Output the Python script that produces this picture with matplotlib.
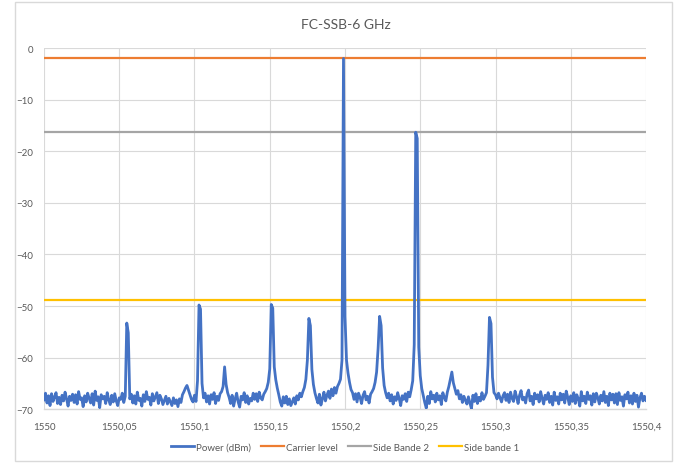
import numpy as np
import matplotlib
matplotlib.use("Agg")
import matplotlib.pyplot as plt
from matplotlib.patches import Rectangle

# ---------------------------------------------------------------------------
# Data (0.001 nm step)
# ---------------------------------------------------------------------------
wl_start, wl_stop, n_pts = 1550.0, 1550.4, 401

power_dbm = [
    -68.2, -66.9, -68.8, -67.4, -69.3, -67.0, -68.5, -67.6, -66.8, -68.9, -67.7, -69.1, -67.3, -68.4, -66.7, -68.0, -69.4, -67.5, -68.3, -67.1,
    -68.7, -67.2, -69.0, -66.6, -68.1, -67.8, -69.5, -67.4, -68.6, -66.9, -67.9, -68.8, -67.0, -69.2, -66.5, -68.3, -67.6, -69.7, -67.2, -68.0,
    -67.5, -68.9, -66.8, -68.2, -69.1, -67.3, -68.6, -67.0, -68.4, -69.3, -67.8, -68.1, -66.9, -68.7, -67.5, -53.3, -55.2, -68.0, -67.1, -68.8,
    -67.4, -69.0, -66.7, -68.3, -67.9, -69.4, -67.2, -68.5, -66.6, -68.1, -67.7, -69.2, -67.0, -68.4, -67.6, -66.8, -68.9, -67.3, -68.0, -69.1,
    -68.3, -67.5, -69.0, -67.9, -68.6, -69.3, -67.8, -68.9, -68.2, -69.5, -68.0, -68.7, -67.2, -66.6, -65.9, -65.4, -66.3, -67.2, -68.1, -68.6,
    -67.3, -68.5, -64.5, -49.8, -50.6, -65.0, -67.8, -66.9, -68.6, -67.4, -69.0, -67.2, -68.1, -66.8, -68.9, -67.5, -68.3, -67.0, -66.6, -65.6,
    -61.8, -65.2, -66.8, -67.7, -68.9, -67.3, -69.4, -68.0, -66.9, -68.6, -69.6, -67.5, -68.2, -66.8, -68.7, -67.4, -69.0, -67.9, -68.4, -66.9,
    -68.1, -67.0, -68.5, -66.7, -67.8, -68.2, -67.1, -66.6, -66.0, -64.8, -62.2, -49.7, -50.4, -61.8, -64.3, -65.9, -67.2, -68.6, -69.4, -67.6,
    -68.8, -67.5, -69.1, -68.0, -69.3, -68.6, -67.8, -69.0, -67.4, -68.2, -66.9, -67.6, -66.6, -65.8, -64.2, -60.5, -52.4, -53.8, -62.3, -65.2,
    -66.8, -67.9, -68.8, -67.1, -69.2, -68.0, -66.7, -68.4, -67.3, -66.5, -67.9, -66.1, -67.4, -65.8, -66.9, -65.6, -65.0, -64.2, -60.5, -2.0,
    -52.0, -60.5, -63.0, -64.8, -66.2, -66.8, -68.1, -67.0, -68.6, -66.9, -67.7, -68.9, -67.3, -66.6, -68.2, -67.5, -68.8, -67.1, -66.6, -66.0,
    -64.8, -62.8, -58.2, -52.0, -53.8, -62.0, -65.4, -66.8, -67.8, -66.9, -68.4, -67.2, -69.0, -67.6, -68.3, -66.8, -67.9, -69.3, -67.4, -68.1,
    -67.0, -68.5, -66.7, -67.6, -66.2, -64.5, -57.5, -16.3, -17.5, -58.0, -63.5, -66.0, -67.4, -68.7, -69.8, -67.5, -68.9, -66.6, -68.0, -67.3,
    -68.6, -66.9, -68.2, -67.4, -69.1, -66.8, -67.7, -68.4, -66.7, -65.6, -64.2, -62.8, -64.9, -66.0, -67.1, -66.4, -68.0, -67.2, -68.7, -67.5,
    -68.3, -69.0, -67.6, -68.8, -69.9, -67.3, -68.5, -67.0, -68.9, -67.7, -68.4, -66.8, -68.1, -67.5, -66.8, -61.5, -52.2, -53.4, -63.8, -66.8,
    -67.2, -68.0, -66.9, -67.8, -68.6, -67.4, -66.8, -68.3, -67.1, -68.7, -66.7, -67.9, -68.5, -66.5, -67.6, -68.9, -67.3, -66.4, -68.2, -67.7,
    -68.8, -67.0, -66.3, -68.4, -67.5, -69.1, -66.9, -68.0, -67.2, -68.6, -66.6, -67.9, -69.0, -67.3, -68.1, -66.8, -68.7, -67.5, -69.2, -66.7,
    -68.3, -67.6, -69.0, -66.9, -68.2, -67.1, -68.8, -66.5, -67.7, -69.1, -67.4, -68.5, -66.8, -68.9, -67.2, -68.0, -69.4, -66.6, -68.4, -67.5,
    -68.9, -66.7, -68.1, -67.4, -69.2, -67.0, -68.6, -66.9, -67.8, -69.0, -67.3, -68.4, -66.6, -68.7, -67.5, -69.3, -66.9, -68.2, -67.1, -68.8,
    -67.0, -69.1, -66.8, -68.3, -67.6, -69.4, -67.2, -68.0, -66.7, -68.8, -67.4, -69.0, -66.9, -68.5, -67.3, -69.6, -67.8, -66.9, -68.4, -67.5,
    -68.3,
]

carrier_level = -1.9
side_bande_2 = -16.2
side_bande_1 = -48.9

x_ticks = [1550, 1550.05, 1550.1, 1550.15, 1550.2, 1550.25, 1550.3, 1550.35, 1550.4]
x_tick_labels = ["1550", "1550,05", "1550,1", "1550,15", "1550,2",
                 "1550,25", "1550,3", "1550,35", "1550,4"]
y_ticks = [0, -10, -20, -30, -40, -50, -60, -70]

# ---------------------------------------------------------------------------
# Plot
# ---------------------------------------------------------------------------
plt.rcParams["font.family"] = ["Lato", "DejaVu Sans"]
TXT = "#595959"
GRID = "#D9D9D9"

wavelength = np.linspace(wl_start, wl_stop, n_pts)

fig = plt.figure(figsize=(6.79, 4.64), dpi=100)
fig.patches.append(Rectangle((0.022, 0.004), 0.967, 0.99, transform=fig.transFigure,
                             fill=False, edgecolor=GRID, linewidth=1.0))
ax = fig.add_axes([0.0648, 0.116, 0.8866, 0.778])

ax.plot(wavelength, power_dbm, color="#4472C4", linewidth=2.0, label="Power (dBm)", zorder=3)
ax.axhline(carrier_level, color="#ED7D31", linewidth=1.6, label="Carrier level", zorder=2)
ax.axhline(side_bande_2, color="#A5A5A5", linewidth=1.6, label="Side Bande 2", zorder=2)
ax.axhline(side_bande_1, color="#FFC000", linewidth=1.6, label="Side bande 1", zorder=2)

ax.set_xlim(wl_start, wl_stop)
ax.set_ylim(-70, 0)
ax.set_xticks(x_ticks)
ax.set_xticklabels(x_tick_labels)
ax.set_yticks(y_ticks)
ax.tick_params(axis="both", length=0, labelsize=7, labelcolor=TXT)
ax.tick_params(axis="x", pad=9)
ax.tick_params(axis="y", pad=8)
ax.grid(True, color=GRID, linewidth=0.8)
ax.set_axisbelow(True)
for side in ["top", "right", "left"]:
    ax.spines[side].set_visible(False)
ax.spines["bottom"].set_color(GRID)
ax.spines["bottom"].set_linewidth(1.0)

fig.text(0.51, 0.947, "FC-SSB-6 GHz", ha="center", va="center", fontsize=10, color=TXT)

handles, labels = ax.get_legend_handles_labels()
fig.legend(handles, labels, loc="center", bbox_to_anchor=(0.508, 0.034), ncol=4,
           frameon=False, fontsize=7, labelcolor=TXT, handlelength=2.4,
           handletextpad=0.2, columnspacing=1.0)

fig.savefig("out.png", dpi=100)
